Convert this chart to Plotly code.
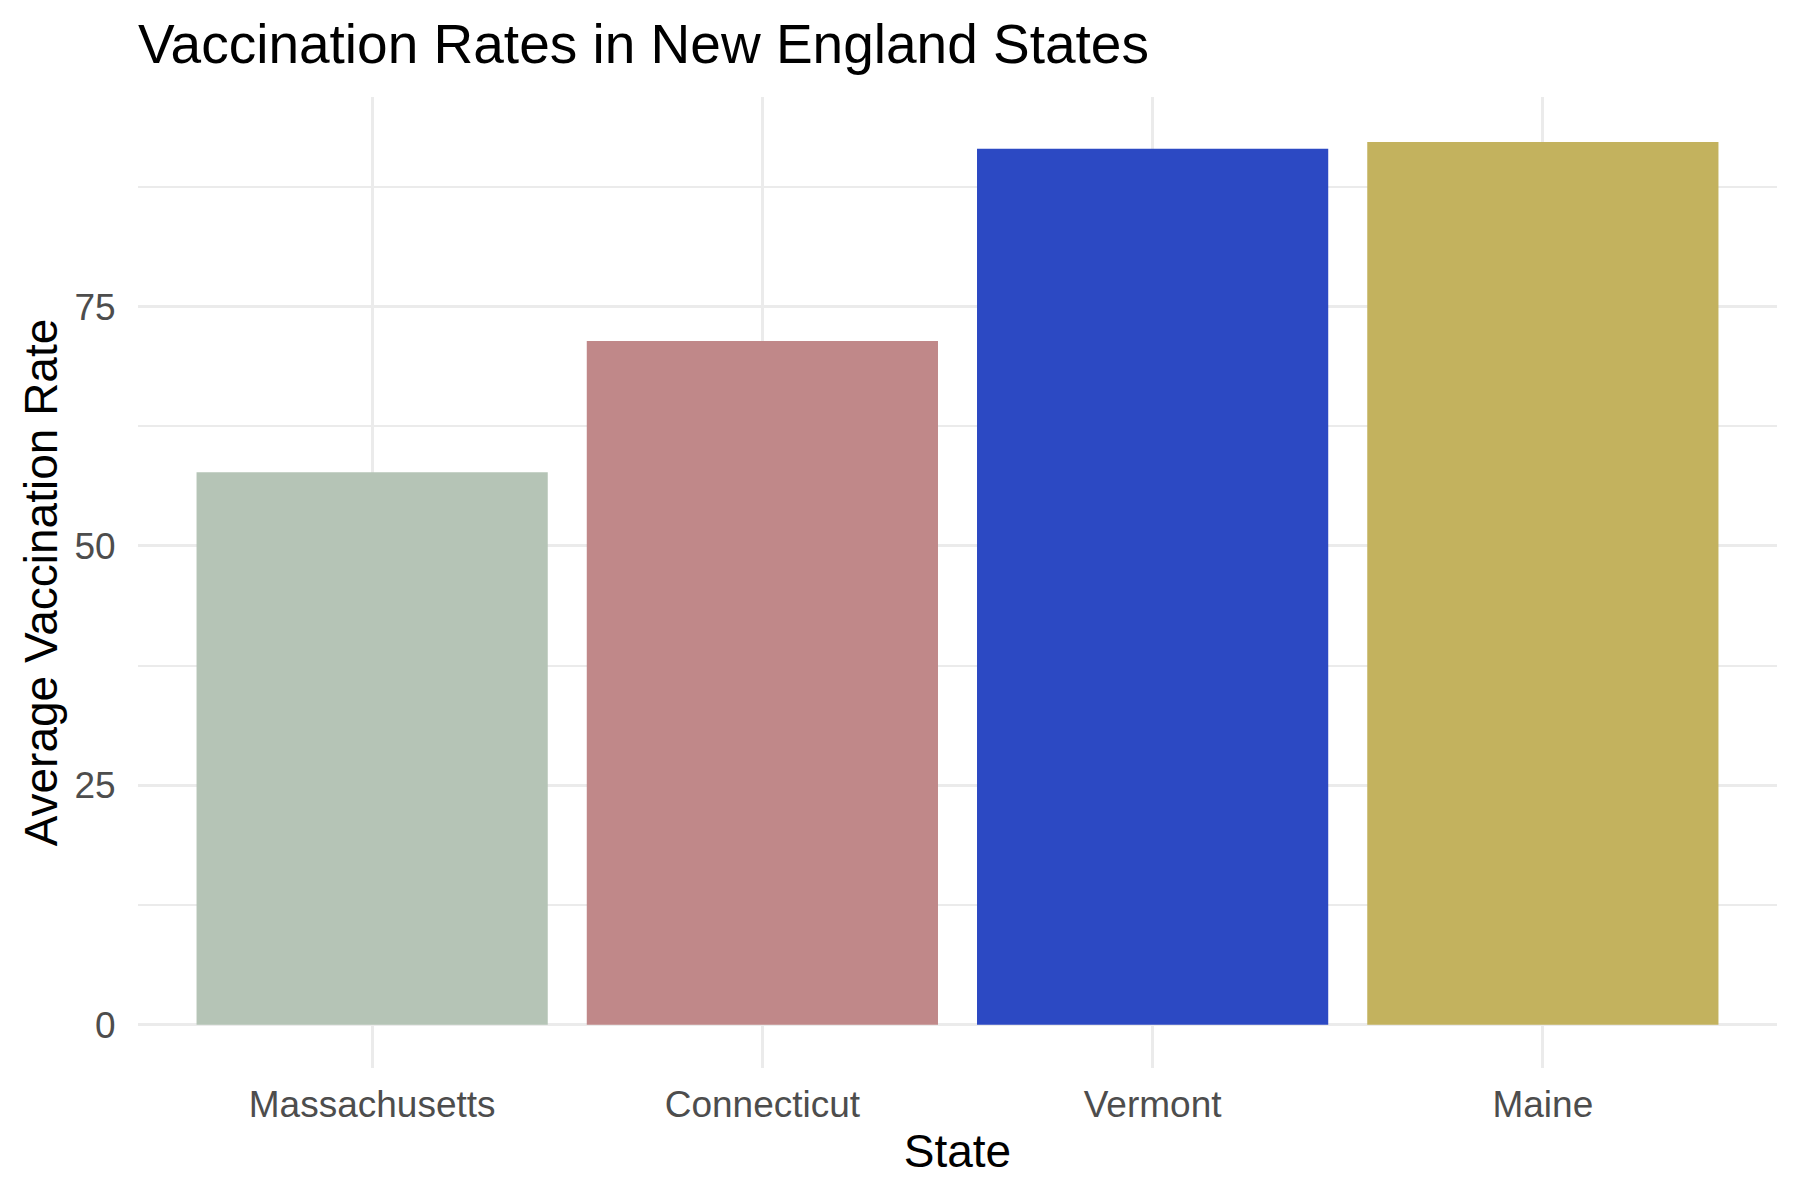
import plotly.graph_objects as go

states = ["Massachusetts", "Connecticut", "Vermont", "Maine"]
rates = [57.7, 71.4, 91.5, 92.2]
colors = ["#B5C4B6", "#C08889", "#2C49C3", "#C3B25E"]
y_ticks = [0, 25, 50, 75]

fig = go.Figure(go.Bar(x=states, y=rates, marker=dict(color=colors, line=dict(width=0)), width=0.9))

font = "Liberation Sans, Arial, sans-serif"
fig.update_layout(
    width=1800, height=1200,
    paper_bgcolor="white", plot_bgcolor="white",
    margin=dict(l=138, r=23, t=97, b=132),
    showlegend=False,
    font=dict(family=font),
    title=dict(text="Vaccination Rates in New England States", font=dict(size=55, color="black", family=font),
               x=138/1800, xanchor="left", xref="container", y=1-44/1200, yanchor="middle", yref="container"),
    xaxis=dict(range=[-0.6, 3.6], showgrid=True, gridcolor="#EBEBEB", gridwidth=3.2,
               ticks="outside", ticklen=4, tickcolor="rgba(0,0,0,0)",
               tickfont=dict(size=37, color="#4D4D4D"), showline=False, zeroline=False,
               title=dict(text="State", font=dict(size=46, color="black"), standoff=10)),
    yaxis=dict(range=[-4.53, 96.9], tickvals=y_ticks, showgrid=True, gridcolor="#EBEBEB", gridwidth=3.2,
               ticks="outside", ticklen=14, tickcolor="rgba(0,0,0,0)",
               tickfont=dict(size=37, color="#4D4D4D"), showline=False, zeroline=False,
               minor=dict(dtick=12.5, tick0=0, showgrid=True, gridcolor="#EBEBEB", gridwidth=1.6),
               title=dict(text="Average Vaccination Rate", font=dict(size=46, color="black"), standoff=2)),
)
fig.write_html("out.html")
